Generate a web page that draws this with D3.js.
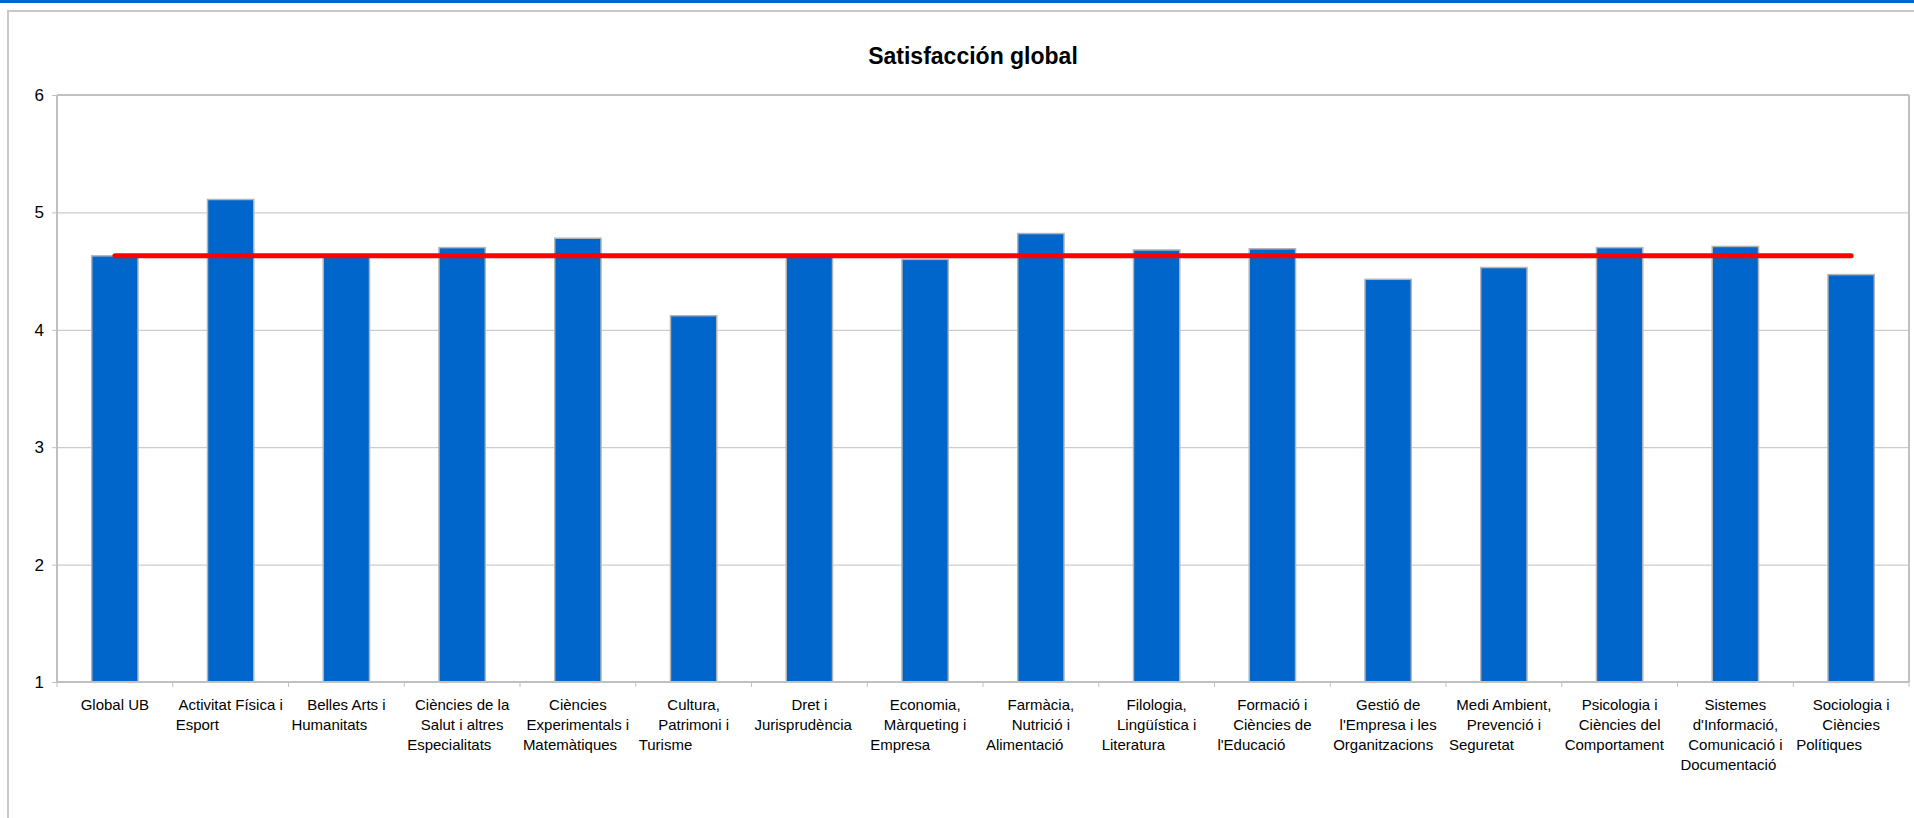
<html>
<head>
<meta http-equiv="Content-Type" content="text/html; charset=utf-8">
<title>Satisfacción global</title>
<style type="text/css">
	body { margin: 0; background: #ffffff; }
	svg { display: block; font-family: "Liberation Sans", Arial, sans-serif; }
	.grid line { stroke: #c0c0c0; stroke-width: 1; }
	.grid path { display: none; }
	.yaxis path { display: none; }
	.yaxis line { stroke: #c0c0c0; }
	.yaxis text { font-size: 17px; fill: #000; }
	.bar { fill: #0066cc; stroke: #b4b4b4; stroke-width: 1.5; }
	.xlabel { font-size: 15px; fill: #000; }
</style>
<script src="https://cdn.jsdelivr.net/npm/d3@7"></script>
</head>
<body>
<svg id="chart" width="1914" height="818"></svg>
<script type="text/javascript">

// categories (line breaks as in the picture)
var categories = [
	"Global UB",
	"Activitat Física i\nEsport",
	"Belles Arts i\nHumanitats",
	"Ciències de la\nSalut i altres\nEspecialitats",
	"Ciències\nExperimentals i\nMatemàtiques",
	"Cultura,\nPatrimoni i\nTurisme",
	"Dret i\nJurisprudència",
	"Economia,\nMàrqueting i\nEmpresa",
	"Farmàcia,\nNutrició i\nAlimentació",
	"Filologia,\nLingüística i\nLiteratura",
	"Formació i\nCiències de\nl'Educació",
	"Gestió de\nl'Empresa i les\nOrganitzacions",
	"Medi Ambient,\nPrevenció i\nSeguretat",
	"Psicologia i\nCiències del\nComportament",
	"Sistemes\nd'Informació,\nComunicació i\nDocumentació",
	"Sociologia i\nCiències\nPolítiques"
];

// satisfaction values
var values = [4.63, 5.11, 4.62, 4.70, 4.78, 4.12, 4.62, 4.60, 4.82, 4.68, 4.69, 4.43, 4.53, 4.70, 4.71, 4.47];

// reference line: Global UB average
var globalValue = [4.63];

var yTicks = [1, 2, 3, 4, 5, 6];
var titleText = "Satisfacción global";

var svg = d3.select("#chart"),
	W = +svg.attr("width"),
	H = +svg.attr("height"),
	plotL = 57, plotR = 1909, plotT = 95, plotB = 682;

// top blue strip and outer frame
svg.append("rect").attr("x", 0).attr("y", 0).attr("width", W).attr("height", 3).attr("fill", "#0066cc");
svg.append("rect").attr("x", 8).attr("y", 11).attr("width", W + 20).attr("height", H + 20)
	.attr("fill", "none").attr("stroke", "#c8c8c8").attr("stroke-width", 2);

svg.append("text")
	.attr("x", 973).attr("y", 64)
	.attr("text-anchor", "middle")
	.style("font-size", "23px").style("font-weight", "bold")
	.text(titleText);

var x = d3.scaleBand().domain(categories).range([plotL, plotR]).padding(0);
var y = d3.scaleLinear().domain([1, 6]).range([plotB, plotT]);

// gridlines
svg.append("g").attr("class", "grid")
	.attr("transform", "translate(" + plotL + ",0)")
	.call(d3.axisLeft(y).tickValues(yTicks.slice(1, -1)).tickSize(-(plotR - plotL)).tickFormat(""));

// y axis ticks + labels
svg.append("g").attr("class", "yaxis")
	.attr("transform", "translate(" + plotL + ",0)")
	.call(d3.axisLeft(y).tickValues(yTicks).tickSize(5).tickPadding(8).tickFormat(d3.format("d")));

// plot frame
var frame = svg.append("g").attr("stroke", "#c0c0c0").attr("stroke-width", 2);
frame.append("line").attr("x1", plotL).attr("x2", plotL).attr("y1", plotT).attr("y2", plotB);
frame.append("line").attr("x1", plotL).attr("x2", plotR).attr("y1", plotT).attr("y2", plotT);
frame.append("line").attr("x1", plotR).attr("x2", plotR).attr("y1", plotT).attr("y2", plotB);

// bars
var bw = x.bandwidth();
svg.selectAll(".bar")
	.data(values)
	.enter()
	.append("rect")
	.attr("class", "bar")
	.attr("x", function(d, i) { return x(categories[i]) + bw * 0.3; })
	.attr("width", bw * 0.4)
	.attr("y", function(d) { return y(d); })
	.attr("height", function(d) { return y(1) - y(d); });

// x axis line and ticks between categories
svg.append("line").attr("x1", plotL).attr("x2", plotR).attr("y1", plotB).attr("y2", plotB)
	.attr("stroke", "#c0c0c0").attr("stroke-width", 2);
var bounds = categories.map(function(c) { return x(c); }).concat([plotR]);
svg.selectAll(".xtick")
	.data(bounds)
	.enter()
	.append("line")
	.attr("class", "xtick")
	.attr("x1", function(d) { return d; }).attr("x2", function(d) { return d; })
	.attr("y1", plotB).attr("y2", plotB + 5)
	.attr("stroke", "#c0c0c0");

// red average line
svg.append("line")
	.attr("x1", x(categories[0]) + bw / 2)
	.attr("x2", x(categories[categories.length - 1]) + bw / 2)
	.attr("y1", y(globalValue[0]))
	.attr("y2", y(globalValue[0]))
	.attr("stroke", "#ff0000")
	.attr("stroke-width", 5)
	.attr("stroke-linecap", "round");

// category labels
categories.forEach(function(c) {
	var lines = c.split("\n");
	var cx = x(c) + bw / 2;
	var g = svg.append("text").attr("class", "xlabel");
	lines.forEach(function(l, i) {
		var last = (i === lines.length - 1) && lines.length > 1;
		g.append("tspan")
			.attr("x", last ? cx - 55 : cx)
			.attr("y", 710 + i * 20)
			.attr("text-anchor", last ? "start" : "middle")
			.text(l);
	});
});

</script>
</body>
</html>
